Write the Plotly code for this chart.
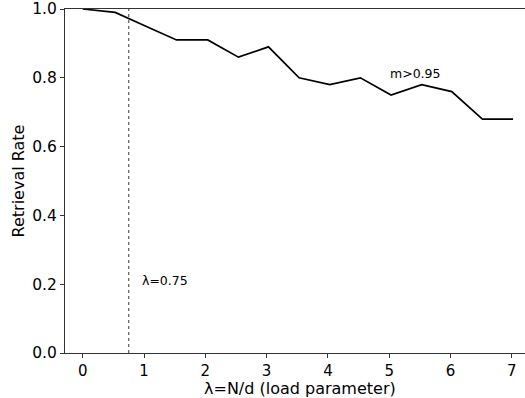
import plotly.graph_objects as go

# Data
load_param = [0.0, 0.53, 1.03, 1.53, 2.04, 2.54, 3.03, 3.53, 4.03, 4.53, 5.03, 5.53, 6.02, 6.52, 7.02]
retrieval_rate = [1.00, 0.99, 0.95, 0.91, 0.91, 0.86, 0.89, 0.80, 0.78, 0.80, 0.75, 0.78, 0.76, 0.68, 0.68]
critical_lambda = 0.75
x_ticks = [0, 1, 2, 3, 4, 5, 6, 7]
y_ticks = [0.0, 0.2, 0.4, 0.6, 0.8, 1.0]
y_tick_labels = ["0.0", "0.2", "0.4", "0.6", "0.8", "1.0"]
x_title = "λ=N/d (load parameter)"
y_title = "Retrieval Rate"
label_crit = "λ=0.75"
label_crit_pos = (0.95, 0.21)
label_m = "m>0.95"
label_m_pos = (5.0, 0.812)

FONT = "DejaVu Sans"

fig = go.Figure()
fig.add_trace(go.Scatter(
    x=load_param, y=retrieval_rate, mode="lines",
    line=dict(color="black", width=1.7), showlegend=False, hoverinfo="skip",
))

fig.add_shape(type="line", xref="x", yref="paper",
              x0=critical_lambda, x1=critical_lambda, y0=0, y1=1,
              line=dict(color="#666666", width=1.3, dash="dot"))

fig.add_annotation(x=label_crit_pos[0], y=label_crit_pos[1], text=label_crit,
                   showarrow=False, xanchor="left", yanchor="middle", borderpad=0,
                   font=dict(family=FONT, size=12.5, color="black"))
fig.add_annotation(x=label_m_pos[0], y=label_m_pos[1], text=label_m,
                   showarrow=False, xanchor="left", yanchor="middle", borderpad=0,
                   font=dict(family=FONT, size=12.5, color="black"))

# x-axis title placed as a paper annotation (matplotlib centres it on the full axes)
fig.add_annotation(x=0.51, y=-0.104, xref="paper", yref="paper", text=x_title,
                   showarrow=False, xanchor="center", yanchor="middle", borderpad=0,
                   font=dict(family=FONT, size=16, color="black"))

fig.update_layout(
    width=525, height=398,
    margin=dict(l=65, r=0, t=9, b=45),
    paper_bgcolor="white", plot_bgcolor="white",
    font=dict(family=FONT, size=15, color="black"),
    xaxis=dict(
        range=[-0.289, 7.215], tickvals=x_ticks, ticks="outside", ticklen=4,
        tickwidth=1, tickcolor="#333333", showline=True, linecolor="#333333",
        linewidth=1, mirror=True, showgrid=False, zeroline=False,
        tickfont=dict(family=FONT, size=15),
    ),
    yaxis=dict(
        range=[0, 1], tickvals=y_ticks, ticktext=y_tick_labels, ticks="outside",
        ticklen=4, tickwidth=1, tickcolor="#333333", showline=True,
        linecolor="#333333", linewidth=1, showgrid=False, zeroline=False,
        title=dict(text=y_title, standoff=3,
                   font=dict(family=FONT, size=16)),
        tickfont=dict(family=FONT, size=15.5),
    ),
)

fig.write_html("out.html")
